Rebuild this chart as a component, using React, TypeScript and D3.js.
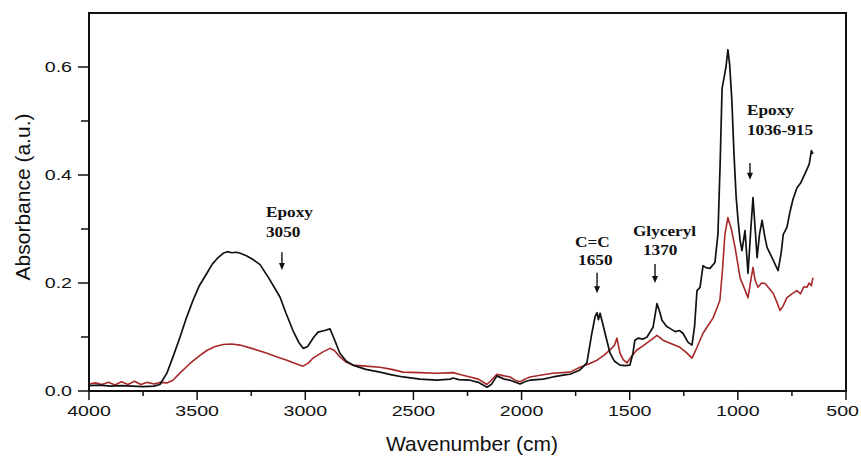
import React from "react";
import * as d3 from "d3";

// Wavenumber (cm-1), absorbance pairs
const blackSpectrum: [number, number][] = [
  [4000, 0.010], [3950, 0.011], [3900, 0.009], [3850, 0.010], [3800, 0.009], [3750, 0.008],
  [3700, 0.009], [3672, 0.012], [3640, 0.033], [3610, 0.065], [3579, 0.100], [3550, 0.135],
  [3519, 0.168], [3490, 0.195], [3455, 0.218], [3430, 0.235], [3408, 0.245], [3380, 0.255],
  [3360, 0.258], [3340, 0.256], [3320, 0.257], [3300, 0.255], [3270, 0.250], [3240, 0.243],
  [3209, 0.234], [3170, 0.210], [3117, 0.174], [3090, 0.145], [3057, 0.112], [3030, 0.090],
  [3010, 0.079], [2990, 0.082], [2960, 0.100], [2941, 0.109], [2910, 0.112], [2886, 0.115],
  [2870, 0.100], [2840, 0.070], [2810, 0.055], [2780, 0.048], [2720, 0.040], [2655, 0.035],
  [2600, 0.030], [2548, 0.026], [2470, 0.022], [2391, 0.020], [2330, 0.022], [2317, 0.024],
  [2290, 0.021], [2238, 0.020], [2200, 0.016], [2160, 0.007], [2140, 0.012], [2114, 0.028],
  [2080, 0.022], [2053, 0.020], [2007, 0.013], [1980, 0.018], [1961, 0.020], [1900, 0.022],
  [1855, 0.026], [1800, 0.030], [1776, 0.031], [1730, 0.039], [1698, 0.052], [1675, 0.107],
  [1660, 0.138], [1651, 0.145], [1645, 0.132], [1637, 0.144], [1625, 0.125], [1614, 0.107],
  [1591, 0.070], [1570, 0.055], [1545, 0.048], [1520, 0.047], [1499, 0.048], [1485, 0.070],
  [1476, 0.094], [1460, 0.098], [1440, 0.096], [1420, 0.100], [1392, 0.118], [1374, 0.162],
  [1360, 0.145], [1351, 0.131], [1330, 0.120], [1314, 0.116], [1290, 0.110], [1270, 0.112],
  [1254, 0.107], [1230, 0.090], [1212, 0.085], [1200, 0.120], [1189, 0.186], [1175, 0.192],
  [1161, 0.232], [1145, 0.228], [1129, 0.227], [1106, 0.238], [1092, 0.291], [1082, 0.420],
  [1073, 0.560], [1064, 0.580], [1055, 0.600], [1046, 0.632], [1038, 0.605], [1028, 0.540],
  [1018, 0.440], [1008, 0.360], [999, 0.316], [990, 0.280], [981, 0.260], [967, 0.297],
  [953, 0.218], [940, 0.300], [930, 0.358], [920, 0.300], [911, 0.247], [900, 0.290],
  [888, 0.316], [875, 0.285], [865, 0.266], [840, 0.245], [814, 0.223], [800, 0.255],
  [790, 0.290], [773, 0.303], [760, 0.330], [745, 0.355], [727, 0.376], [710, 0.385],
  [690, 0.402], [670, 0.420], [660, 0.445], [653, 0.439],
];

const redSpectrum: [number, number][] = [
  [4000, 0.013], [3970, 0.015], [3940, 0.012], [3910, 0.016], [3880, 0.011], [3850, 0.017],
  [3820, 0.012], [3790, 0.018], [3760, 0.012], [3730, 0.016], [3700, 0.013], [3670, 0.016],
  [3640, 0.015], [3612, 0.020], [3580, 0.033], [3533, 0.051], [3490, 0.065], [3455, 0.075],
  [3420, 0.082], [3380, 0.086], [3340, 0.087], [3302, 0.085], [3240, 0.078], [3177, 0.070],
  [3130, 0.063], [3085, 0.057], [3040, 0.050], [3010, 0.046], [2985, 0.052], [2964, 0.061],
  [2920, 0.072], [2886, 0.079], [2865, 0.075], [2840, 0.063], [2810, 0.053], [2780, 0.048],
  [2720, 0.046], [2655, 0.044], [2600, 0.040], [2548, 0.035], [2470, 0.034], [2391, 0.033],
  [2317, 0.034], [2280, 0.030], [2238, 0.026], [2200, 0.022], [2160, 0.012], [2140, 0.020],
  [2114, 0.031], [2080, 0.028], [2053, 0.026], [2030, 0.020], [2007, 0.017], [1985, 0.022],
  [1961, 0.026], [1900, 0.030], [1855, 0.033], [1776, 0.035], [1730, 0.044], [1690, 0.050],
  [1651, 0.057], [1620, 0.066], [1591, 0.076], [1570, 0.085], [1559, 0.098], [1550, 0.080],
  [1545, 0.070], [1530, 0.058], [1513, 0.052], [1490, 0.065], [1467, 0.076], [1440, 0.083],
  [1420, 0.089], [1390, 0.098], [1374, 0.103], [1346, 0.094], [1310, 0.088], [1268, 0.081],
  [1240, 0.072], [1212, 0.061], [1190, 0.080], [1161, 0.107], [1140, 0.120], [1115, 0.135],
  [1100, 0.150], [1083, 0.168], [1070, 0.230], [1060, 0.290], [1046, 0.321], [1030, 0.300],
  [1013, 0.266], [1000, 0.235], [990, 0.210], [970, 0.190], [953, 0.173], [940, 0.205],
  [930, 0.229], [920, 0.205], [907, 0.192], [890, 0.200], [874, 0.199], [855, 0.190],
  [837, 0.181], [820, 0.165], [805, 0.149], [790, 0.158], [773, 0.173], [750, 0.180],
  [727, 0.186], [710, 0.180], [695, 0.193], [681, 0.192], [670, 0.200], [660, 0.195],
  [653, 0.210],
];

const xMajorTicks = [4000, 3500, 3000, 2500, 2000, 1500, 1000, 500];
const xMinorTicks = [3750, 3250, 2750, 2250, 1750, 1250, 750];
const yMajorTicks = [0.0, 0.2, 0.4, 0.6];
const yMinorTicks = [0.1, 0.3, 0.5];

type AnnLine = { text: string; wn: number; abs: number };
const annotationLines: AnnLine[] = [
  { text: "Epoxy", wn: 3182, abs: 0.322 },
  { text: "3050", wn: 3182, abs: 0.285 },
  { text: "C=C", wn: 1753, abs: 0.267 },
  { text: "1650", wn: 1739, abs: 0.233 },
  { text: "Glyceryl", wn: 1485, abs: 0.287 },
  { text: "1370", wn: 1439, abs: 0.252 },
  { text: "Epoxy", wn: 958, abs: 0.511 },
  { text: "1036-915", wn: 958, abs: 0.474 },
];
const annotationArrows = [
  { wn: 3108, top: 0.257, bottom: 0.224 },
  { wn: 1651, top: 0.219, bottom: 0.181 },
  { wn: 1383, top: 0.235, bottom: 0.2 },
  { wn: 944, top: 0.422, bottom: 0.391 },
];

const W = 861;
const H = 458;
const left = 89, right = 846, top = 13, bottom = 391;

export default function App() {
  const x = d3.scaleLinear().domain([4000, 500]).range([left, right]);
  const y = d3.scaleLinear().domain([0, 0.7]).range([bottom, top]);
  const line = d3
    .line<[number, number]>()
    .x((d) => x(d[0]))
    .y((d) => y(d[1]));

  const sans = "Liberation Sans, Arial, sans-serif";
  const serif = "Liberation Serif, Times New Roman, serif";
  const lastTick = xMajorTicks[xMajorTicks.length - 1];

  return (
    <svg
      width={W}
      height={H}
      style={{ position: "absolute", left: 0, top: 0, background: "#fff" }}
    >
      <rect x={0} y={0} width={W} height={H} fill="#fff" />
      <defs>
        <clipPath id="plotClip">
          <rect x={left} y={top} width={right - left} height={bottom - top} />
        </clipPath>
      </defs>

      <g clipPath="url(#plotClip)">
        <path d={line(redSpectrum) || ""} fill="none" stroke="#a8282a" strokeWidth={1.6} strokeLinejoin="round" />
        <path d={line(blackSpectrum) || ""} fill="none" stroke="#111" strokeWidth={1.7} strokeLinejoin="round" />
      </g>

      {/* frame */}
      <rect x={left} y={top} width={right - left} height={bottom - top} fill="none" stroke="#111" strokeWidth={2} />

      {/* x ticks */}
      {xMajorTicks.map((t) => {
        const isLast = t === lastTick;
        return (
          <g key={"xm" + t}>
            <line x1={x(t)} x2={x(t)} y1={bottom} y2={bottom + 9} stroke="#111" strokeWidth={1.5} />
            <text
              transform={`translate(${isLast ? W - 2 : x(t)},${416}) scale(1.35,1)`}
              textAnchor={isLast ? "end" : "middle"}
              fontFamily={sans}
              fontSize={14.5}
              fill="#111"
            >
              {t}
            </text>
          </g>
        );
      })}
      {xMinorTicks.map((t) => (
        <line key={"xn" + t} x1={x(t)} x2={x(t)} y1={bottom} y2={bottom + 5} stroke="#111" strokeWidth={1.5} />
      ))}

      {/* y ticks */}
      {yMajorTicks.map((t) => (
        <g key={"ym" + t}>
          <line x1={left - 11} x2={left} y1={y(t)} y2={y(t)} stroke="#111" strokeWidth={1.5} />
          <text
            transform={`translate(${72},${y(t) + 5}) scale(1.4,1)`}
            textAnchor="end"
            fontFamily={sans}
            fontSize={14}
            fill="#111"
          >
            {t.toFixed(1)}
          </text>
        </g>
      ))}
      {yMinorTicks.map((t) => (
        <line key={"yn" + t} x1={left - 8} x2={left} y1={y(t)} y2={y(t)} stroke="#111" strokeWidth={1.5} />
      ))}

      {/* axis titles */}
      <text x={472} y={451} textAnchor="middle" fontFamily={sans} fontSize={21} fill="#111">
        Wavenumber (cm)
      </text>
      <text
        transform={`translate(${30},${197}) rotate(-90)`}
        textAnchor="middle"
        fontFamily={sans}
        fontSize={21}
        fill="#111"
      >
        Absorbance (a.u.)
      </text>

      {/* annotations */}
      {annotationLines.map((a, i) => (
        <text
          key={"an" + i}
          transform={`translate(${x(a.wn)},${y(a.abs)}) scale(1.15,1)`}
          fontFamily={serif}
          fontWeight="bold"
          fontSize={15}
          fill="#111"
        >
          {a.text}
        </text>
      ))}
      {annotationArrows.map((a, i) => {
        const ax = x(a.wn);
        const y0 = y(a.top);
        const y1 = y(a.bottom);
        return (
          <g key={"ar" + i}>
            <line x1={ax} x2={ax} y1={y0} y2={y1 - 5} stroke="#111" strokeWidth={1.4} />
            <path d={`M${ax - 3},${y1 - 7} L${ax + 3},${y1 - 7} L${ax},${y1} Z`} fill="#111" />
          </g>
        );
      })}
    </svg>
  );
}
